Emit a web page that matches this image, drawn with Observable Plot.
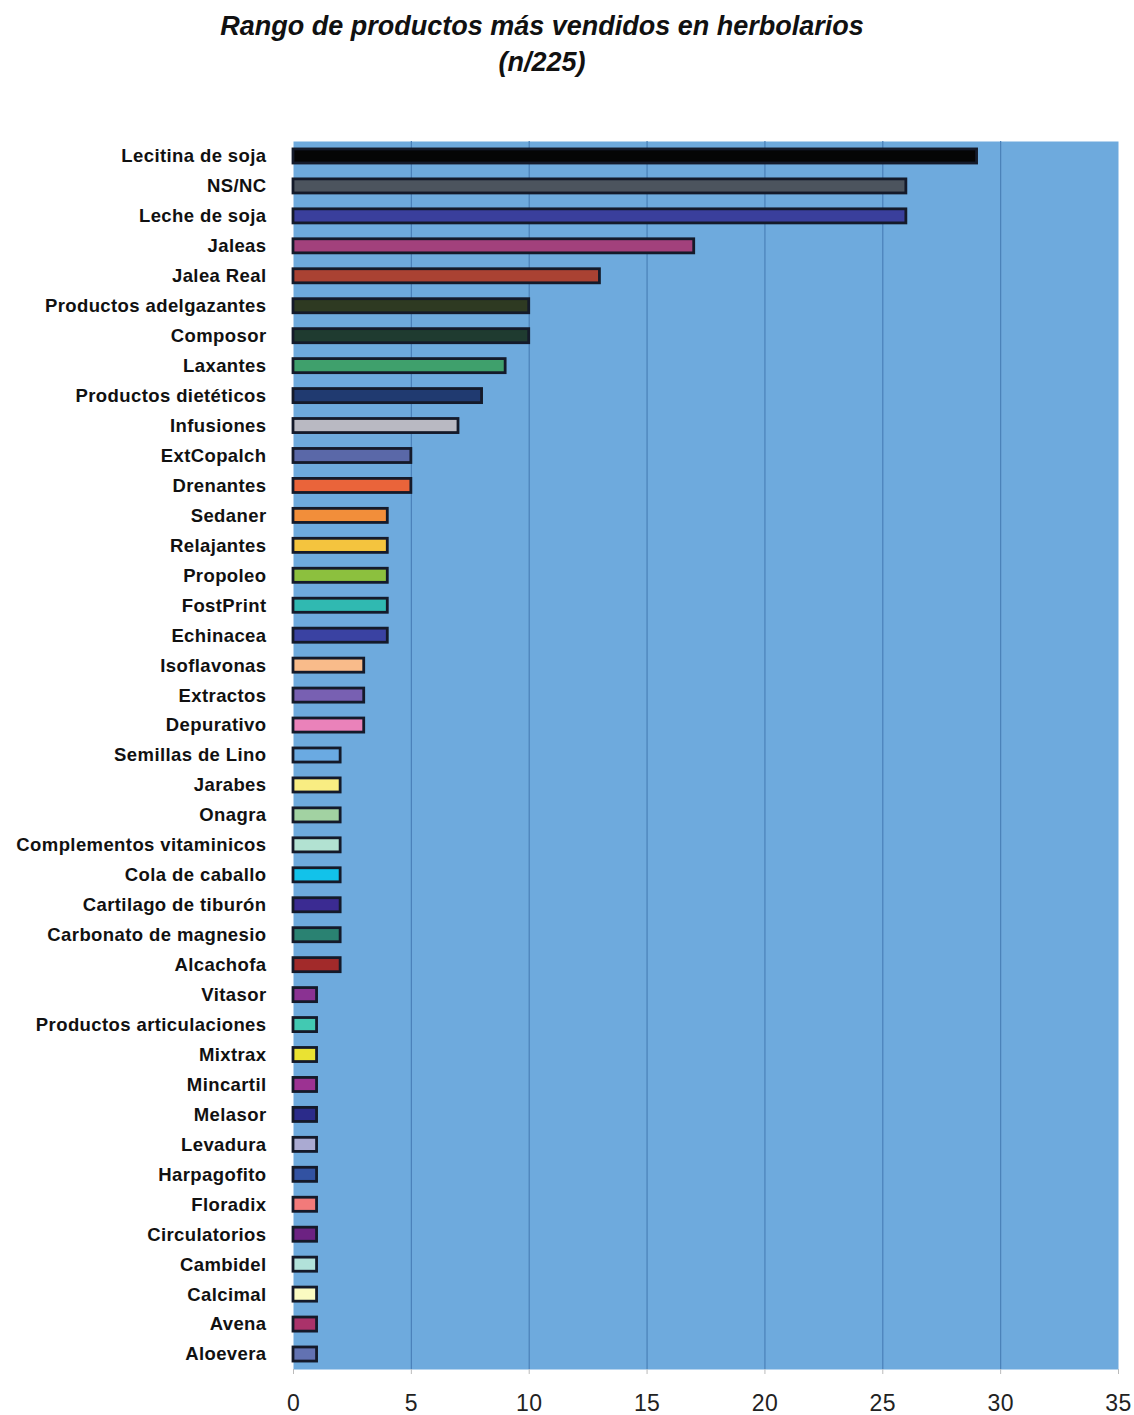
<!DOCTYPE html>
<html>
<head>
<meta charset="utf-8">
<script src="https://cdn.jsdelivr.net/npm/d3@7"></script>
<script src="https://cdn.jsdelivr.net/npm/@observablehq/plot@0.6"></script>
<style>
  html, body { margin: 0; padding: 0; background: #ffffff; }
  #title {
    width: 1134px; height: 100px; box-sizing: border-box;
    text-align: center;
    font-family: "Liberation Sans", Arial, sans-serif;
    font-weight: bold; font-style: italic; font-size: 27px; line-height: 36px;
    color: #111; padding-top: 8px;
  }
  #title div { transform: translateX(-25px); }
  #chart svg text { letter-spacing: 0.4px; }
</style>
</head>
<body>
<div id="title"><div>Rango de productos más vendidos en herbolarios</div><div>(n/225)</div></div>
<div id="chart"></div>
<script>
// Products, in display order (top to bottom)
const products = [
  "Lecitina de soja", "NS/NC", "Leche de soja", "Jaleas", "Jalea Real",
  "Productos adelgazantes", "Composor", "Laxantes", "Productos dietéticos", "Infusiones",
  "ExtCopalch", "Drenantes", "Sedaner", "Relajantes", "Propoleo",
  "FostPrint", "Echinacea", "Isoflavonas", "Extractos", "Depurativo",
  "Semillas de Lino", "Jarabes", "Onagra", "Complementos vitaminicos", "Cola de caballo",
  "Cartilago de tiburón", "Carbonato de magnesio", "Alcachofa", "Vitasor", "Productos articulaciones",
  "Mixtrax", "Mincartil", "Melasor", "Levadura", "Harpagofito",
  "Floradix", "Circulatorios", "Cambidel", "Calcimal", "Avena",
  "Aloevera"
];

// Number of herbalists naming each product
const counts = [
  29, 26, 26, 17, 13,
  10, 10, 9, 8, 7,
  5, 5, 4, 4, 4,
  4, 4, 3, 3, 3,
  2, 2, 2, 2, 2,
  2, 2, 2, 1, 1,
  1, 1, 1, 1, 1,
  1, 1, 1, 1, 1,
  1
];

// One fill per bar
const barColors = [
  "#050505", "#4c545e", "#3a3f9c", "#a2417c", "#aa4233",
  "#2e3a22", "#1f3b30", "#3fa06c", "#203a70", "#b9b9c2",
  "#5a68a8", "#ea643a", "#f28e3a", "#f4c43e", "#8cc03e",
  "#30b9b1", "#3a42a2", "#f9bb8a", "#7860b2", "#ea82ba",
  "#6aaae2", "#f9ed82", "#a2d2a2", "#b2e2d2", "#12c2ea",
  "#3b2b92", "#2a8272", "#a22a2a", "#8a3292", "#42c9b2",
  "#eae232", "#9c3292", "#2b2b8a", "#aaaad2", "#3252a2",
  "#f27a7a", "#6c2282", "#b2e2da", "#fbfbc2", "#aa326a",
  "#6272b2"
];

const xTicks = [0, 5, 10, 15, 20, 25, 30, 35];

const rows = products.map((name, i) => ({name, value: counts[i], color: barColors[i]}));

const chart = Plot.plot({
  width: 1134,
  height: 1315,
  marginTop: 41,
  marginBottom: 46,
  marginLeft: 293,
  marginRight: 16,
  style: {fontFamily: "'Liberation Sans', Arial, sans-serif", background: "transparent"},
  x: {domain: [0, 35], ticks: xTicks, label: null},
  y: {domain: products, paddingInner: 0.53, paddingOuter: 0.265, label: null},
  marks: [
    Plot.frame({fill: "#6eaadd", stroke: null}),
    Plot.ruleX(xTicks.filter(t => t > 0 && t < 35), {stroke: "#4a80b8", strokeWidth: 1.2}),
    Plot.barX(rows, {
      y: "name", x: "value", fill: "color",
      stroke: "#141a2a", strokeWidth: 2.8
    }),
    Plot.axisY({
      tickSize: 0, tickPadding: 27, fontSize: 18.5, fontWeight: "bold", fill: "#111"
    }),
    Plot.axisX({
      ticks: xTicks, tickSize: 5, tickPadding: 20, fontSize: 23,
      stroke: "#bbb", fill: "#222"
    }),
    Plot.ruleY([0], {frameAnchor: "bottom", stroke: "#6a8fb8", strokeWidth: 1.5})
  ]
});

document.getElementById("chart").appendChild(chart);
</script>
</body>
</html>
